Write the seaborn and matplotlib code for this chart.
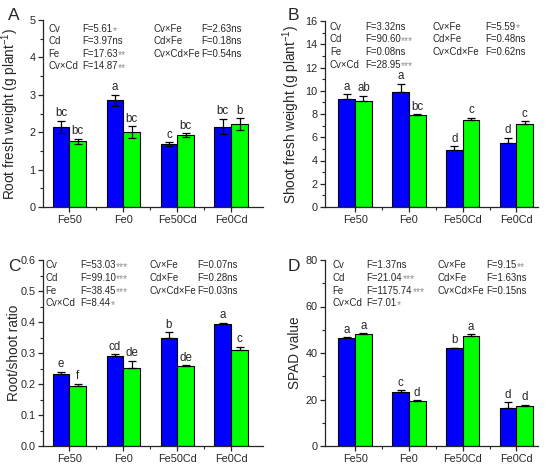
import matplotlib
matplotlib.use('Agg')
import numpy as np
import pandas as pd
import matplotlib.pyplot as plt
import seaborn as sns
from matplotlib.ticker import MultipleLocator, FixedLocator

# data
treatments = ['Fe50', 'Fe0', 'Fe50Cd', 'Fe0Cd']
cultivars = ['Cv1', 'Cv2']

root_cv1 = [2.15, 2.85, 1.68, 2.15]
root_cv1_se = [0.16, 0.15, 0.05, 0.21]
root_cv2 = [1.76, 2.00, 1.92, 2.21]
root_cv2_se = [0.07, 0.16, 0.06, 0.16]
root_let1 = ['bc', 'a', 'c', 'bc']
root_let2 = ['bc', 'bc', 'bc', 'b']

shoot_cv1 = [9.26, 9.91, 4.90, 5.50]
shoot_cv1_se = [0.43, 0.69, 0.34, 0.46]
shoot_cv2 = [9.14, 7.88, 7.48, 7.16]
shoot_cv2_se = [0.43, 0.10, 0.20, 0.23]
shoot_let1 = ['a', 'a', 'd', 'd']
shoot_let2 = ['ab', 'bc', 'c', 'c']

ratio_cv1 = [0.232, 0.289, 0.349, 0.395]
ratio_cv1_se = [0.008, 0.007, 0.019, 0.003]
ratio_cv2 = [0.193, 0.253, 0.257, 0.310]
ratio_cv2_se = [0.008, 0.022, 0.003, 0.010]
ratio_let1 = ['e', 'cd', 'b', 'a']
ratio_let2 = ['f', 'de', 'de', 'c']

spad_cv1 = [46.5, 23.2, 42.0, 16.2]
spad_cv1_se = [0.3, 0.9, 0.3, 2.7]
spad_cv2 = [48.0, 19.4, 47.2, 17.1]
spad_cv2_se = [0.4, 0.4, 0.9, 0.7]
spad_let1 = ['a', 'c', 'b', 'd']
spad_let2 = ['a', 'd', 'a', 'd']

terms = ['Cv', 'Cd', 'Fe', 'Cv×Cd', 'Cv×Fe', 'Cd×Fe', 'Cv×Cd×Fe']
root_F = ['5.61', '3.97', '17.63', '14.87', '2.63', '0.18', '0.54']
root_sig = ['*', 'ns', '**', '**', 'ns', 'ns', 'ns']
shoot_F = ['3.32', '90.60', '0.08', '28.95', '5.59', '0.48', '0.62']
shoot_sig = ['ns', '***', 'ns', '***', '*', 'ns', 'ns']
ratio_F = ['53.03', '99.10', '38.45', '8.44', '0.07', '0.28', '0.03']
ratio_sig = ['***', '***', '***', '*', 'ns', 'ns', 'ns']
spad_F = ['1.37', '21.04', '1175.74', '7.01', '9.15', '1.63', '0.15']
spad_sig = ['ns', '***', '***', '*', '**', 'ns', 'ns']

sns.set_style('ticks')
plt.rcParams['font.family'] = ['Liberation Sans', 'DejaVu Sans']
plt.rcParams['mathtext.default'] = 'regular'
plt.rcParams['axes.linewidth'] = 0.9

W, H = 550, 467
fig = plt.figure(figsize=(5.5, 4.67), dpi=100)

colors = ['#0000FF', '#00FF00']

panels = [
    dict(m1=root_cv1, e1=root_cv1_se, m2=root_cv2, e2=root_cv2_se, l1=root_let1, l2=root_let2,
         F=root_F, sig=root_sig, ylabel='Root fresh weight (g plant$^{-1}$)', ylim=(0, 5),
         major=1, minor=0.5, fmt='{:.0f}', letter='A', both=True,
         box=(43, 20, 263, 207), xlim=(-0.49, 3.59), cols=[0.023, 0.177, 0.5, 0.72], y0=0.952, dy=0.066),
    dict(m1=shoot_cv1, e1=shoot_cv1_se, m2=shoot_cv2, e2=shoot_cv2_se, l1=shoot_let1, l2=shoot_let2,
         F=shoot_F, sig=shoot_sig, ylabel='Shoot fresh weight (g plant$^{-1}$)', ylim=(0, 16),
         major=2, minor=1, fmt='{:.0f}', letter='B', both=False,
         box=(325, 21, 538, 207), xlim=(-0.56, 3.4), cols=[0.023, 0.188, 0.507, 0.751], y0=0.969, dy=0.068),
    dict(m1=ratio_cv1, e1=ratio_cv1_se, m2=ratio_cv2, e2=ratio_cv2_se, l1=ratio_let1, l2=ratio_let2,
         F=ratio_F, sig=ratio_sig, ylabel='Root/shoot ratio', ylim=(0, 0.6),
         major=0.1, minor=0.05, fmt='{:.1f}', letter='C', both=False,
         box=(43, 260, 263, 446), xlim=(-0.49, 3.59), cols=[0.01, 0.168, 0.486, 0.70], y0=0.972, dy=0.068),
    dict(m1=spad_cv1, e1=spad_cv1_se, m2=spad_cv2, e2=spad_cv2_se, l1=spad_let1, l2=spad_let2,
         F=spad_F, sig=spad_sig, ylabel='SPAD value', ylim=(0, 80),
         major=20, minor=10, fmt='{:.0f}', letter='D', both=False,
         box=(325, 260, 538, 446), xlim=(-0.56, 3.4), cols=[0.036, 0.196, 0.527, 0.755], y0=0.972, dy=0.068),
]

for p in panels:
    x0, y0, x1, y1 = p['box']
    ax = fig.add_axes([x0 / W, 1 - y1 / H, (x1 - x0) / W, (y1 - y0) / H])
    df = pd.DataFrame({
        'treatment': treatments * 2,
        'cultivar': [cultivars[0]] * 4 + [cultivars[1]] * 4,
        'value': p['m1'] + p['m2'],
    })
    sns.barplot(data=df, x='treatment', y='value', hue='cultivar', order=treatments,
                hue_order=cultivars, palette=colors, saturation=1, width=0.62, errorbar=None,
                edgecolor='black', linewidth=0.8, legend=False, ax=ax)

    errs = [p['e1'], p['e2']]
    lets = [p['l1'], p['l2']]
    for bar in ax.patches:
        w = bar.get_width()
        if w <= 0:
            continue
        xc = bar.get_x() + w / 2
        m = bar.get_height()
        gi = int(round(xc))
        hi = 0 if xc < gi else 1
        e = errs[hi][gi]
        lower = e if p['both'] else 0
        ax.errorbar(xc, m, yerr=[[lower], [e]], fmt='none', ecolor='black',
                    elinewidth=0.9, capsize=2.8, capthick=0.9, zorder=5)
        ax.annotate(lets[hi][gi], xy=(xc, m + e), xytext=(0, 1), textcoords='offset points',
                    ha='center', va='bottom', fontsize=8.3)

    ax.set_xlim(*p['xlim'])
    ax.yaxis.set_major_locator(MultipleLocator(p['major']))
    ax.yaxis.set_minor_locator(MultipleLocator(p['minor']))
    ax.set_ylim(*p['ylim'])
    ax.yaxis.set_major_formatter(lambda v, pos, f=p['fmt']: f.format(v))
    ax.xaxis.set_minor_locator(FixedLocator([0.5, 1.5, 2.5]))
    ax.tick_params(axis='both', which='major', direction='out', length=3.5, width=0.9, labelsize=7.8, pad=2)
    ax.tick_params(axis='both', which='minor', direction='out', length=2, width=0.8)
    ax.set_xlabel('')
    ax.set_ylabel(p['ylabel'], fontsize=9.8)
    ax.yaxis.set_label_coords(-0.1 if p['letter'] in 'AC' else -0.108, 0.5)
    sns.despine(ax=ax)

    # ANOVA text
    cols = p['cols']
    for i, term in enumerate(terms):
        if i < 4:
            cx, fx, row = cols[0], cols[1], i
        else:
            cx, fx, row = cols[2], cols[3], i - 4
        yy = p['y0'] - row * p['dy']
        ax.text(cx, yy, term, transform=ax.transAxes, fontsize=6.9, va='center', ha='left')
        s = p['sig'][i]
        txt = 'F=' + p['F'][i] + ('ns' if s == 'ns' else '')
        t = ax.text(fx, yy, txt, transform=ax.transAxes, fontsize=6.9, va='center', ha='left')
        if s != 'ns':
            ax.annotate(s, xy=(1, 0.5), xycoords=t, xytext=(0.2, -1.2), textcoords='offset points',
                        va='center', ha='left', fontsize=7.4, color='#8c8c8c')

    lx = 8 if p['letter'] in 'AC' else 288
    ly = 8 if p['letter'] in 'AB' else 259
    fig.text(lx / W, 1 - ly / H, p['letter'], fontsize=12.5, va='top', ha='left')

fig.savefig('out.png', dpi=100)
